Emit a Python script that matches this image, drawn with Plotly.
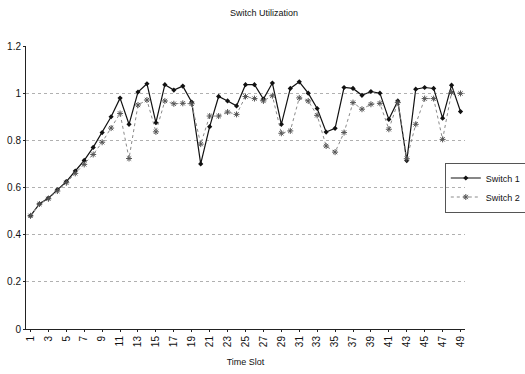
import plotly.graph_objects as go

time_slots = list(range(1, 50))
switch1 = [0.48, 0.53, 0.555, 0.59, 0.625, 0.67, 0.715, 0.77, 0.833, 0.90,
           0.979, 0.868, 1.005, 1.04, 0.875, 1.036, 1.013, 1.03, 0.962, 0.70,
           0.858, 0.986, 0.967, 0.946, 1.036, 1.036, 0.975, 1.043, 0.868, 1.02,
           1.048, 1.0, 0.935, 0.835, 0.851, 1.024, 1.02, 0.991, 1.007, 1.0,
           0.889, 0.967, 0.714, 1.017, 1.024, 1.02, 0.894, 1.034, 0.922]
switch2 = [0.48, 0.53, 0.552, 0.585, 0.62, 0.66, 0.698, 0.74, 0.792, 0.852,
           0.914, 0.723, 0.95, 0.971, 0.836, 0.967, 0.955, 0.957, 0.955, 0.784,
           0.903, 0.903, 0.92, 0.91, 0.986, 0.977, 0.967, 0.989, 0.83, 0.84,
           0.98, 0.967, 0.906, 0.776, 0.75, 0.833, 0.96, 0.932, 0.953, 0.957,
           0.847, 0.96, 0.722, 0.868, 0.977, 0.977, 0.804, 1.003, 0.999]
x_ticks = list(range(1, 50, 2))
y_ticks = [0, 0.2, 0.4, 0.6, 0.8, 1.0, 1.2]

font = "Liberation Sans Narrow, Liberation Sans, Arial, sans-serif"

fig = go.Figure()
fig.add_trace(go.Scatter(
    x=time_slots, y=switch1, name="Switch 1", mode="lines+markers",
    line=dict(color="#111111", width=1.2),
    marker=dict(symbol="diamond", size=4, color="#111111"),
))
fig.add_trace(go.Scatter(
    x=time_slots, y=switch2, name="Switch 2", mode="lines+markers",
    line=dict(color="#8a8a8a", width=1, dash="dot"),
    marker=dict(symbol="asterisk-open", size=5, color="#555555",
                line=dict(color="#555555", width=1)),
))

fig.update_layout(
    width=525, height=374,
    margin=dict(l=26, r=60, t=46, b=45, autoexpand=False),
    paper_bgcolor="white", plot_bgcolor="white",
    font=dict(family=font, size=10, color="#111111"),
    title=dict(text="Switch Utilization", x=264 / 525, xanchor="center",
               y=1 - 13 / 374, yanchor="middle",
               font=dict(family=font, size=9, color="#111111")),
    showlegend=True,
    legend=dict(x=0.954, y=0.5, xanchor="left", yanchor="middle",
                bgcolor="rgba(0,0,0,0)",
                bordercolor="#555555", borderwidth=1,
                font=dict(family=font, size=9),
                tracegroupgap=0, itemwidth=30),
)
fig.update_xaxes(
    range=[0.5, 49.5], tickmode="array", tickvals=x_ticks,
    ticktext=[str(t) for t in x_ticks], tickangle=-90,
    showgrid=False, showline=True, linecolor="#222222", linewidth=1,
    ticks="outside", ticklen=2, tickcolor="#222222",
    title=dict(text="Time Slot", standoff=12, font=dict(family=font, size=9)),
    tickfont=dict(family=font, size=10),
    zeroline=False, automargin=False,
)
fig.update_yaxes(
    range=[0, 1.2], tickmode="array", tickvals=y_ticks,
    ticktext=["0", "0.2", "0.4", "0.6", "0.8", "1", "1.2"],
    showgrid=True, gridcolor="#b0b0b0", griddash="dot", gridwidth=1,
    showline=True, linecolor="#222222", linewidth=1,
    ticks="outside", ticklen=2, tickcolor="#222222",
    tickfont=dict(family=font, size=10),
    zeroline=False, automargin=False,
)

fig.write_html("out.html")
